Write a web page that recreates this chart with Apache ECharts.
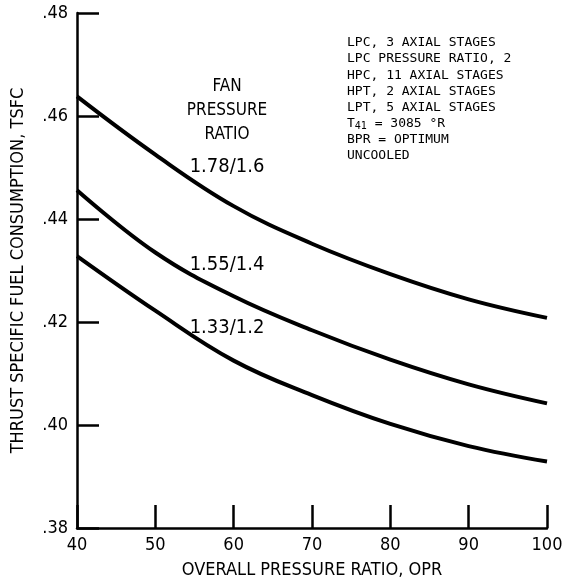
<!DOCTYPE html>
<html>
<head>
<meta charset="utf-8">
<script src="https://cdn.jsdelivr.net/npm/echarts@6/dist/echarts.min.js"></script>
<style>
html,body{margin:0;padding:0;background:#fff;}
#c{width:574px;height:582px;}
</style>
</head>
<body>
<div id="c"></div>
<script>
// Data
var opr = [40, 50, 60, 70, 80, 90, 100];
var tsfc_178 = [0.4638, 0.4525, 0.4425, 0.4352, 0.4293, 0.4244, 0.4208];
var tsfc_155 = [0.4456, 0.4335, 0.4250, 0.4184, 0.4127, 0.4079, 0.4042];
var tsfc_133 = [0.4328, 0.4222, 0.4125, 0.4058, 0.4002, 0.3959, 0.3929];
var seriesNames = ['1.78/1.6', '1.55/1.4', '1.33/1.2'];
var notes = ['LPC, 3 AXIAL STAGES', 'LPC PRESSURE RATIO, 2', 'HPC, 11 AXIAL STAGES',
  'HPT, 2 AXIAL STAGES', 'LPT, 5 AXIAL STAGES', 'T{sub|41} = 3085 \u00b0R', 'BPR = OPTIMUM', 'UNCOOLED'];
var fanTitle = ['FAN', 'PRESSURE', 'RATIO'];

var FONT = "'DejaVu Sans Condensed', 'DejaVu Sans', sans-serif";
var MONO = "'DejaVu Sans Mono', monospace";

function pairs(xs, ys) { return xs.map(function (x, i) { return [x, ys[i]]; }); }

var chart = echarts.init(document.getElementById('c'), null, {renderer: 'canvas'});

function mkSeries(name, ys) {
  return {
    name: name, type: 'line', data: pairs(opr, ys), smooth: 0.4,
    symbol: 'none', lineStyle: {color: '#000', width: 4}, silent: true
  };
}

var graphics = [];
var fanY = [87, 111, 135];
fanTitle.forEach(function (t, i) {
  graphics.push({type: 'text', x: 227, y: fanY[i], style: {text: t, font: '17px ' + FONT, fill: '#000', align: 'center', verticalAlign: 'middle'}});
});
var labY = [167, 265, 328];
seriesNames.forEach(function (t, i) {
  graphics.push({type: 'text', x: 227, y: labY[i], style: {text: t, font: '20px ' + FONT, fill: '#000', align: 'center', verticalAlign: 'middle'}});
});
notes.forEach(function (t, i) {
  graphics.push({type: 'text', x: 347, y: 43 + i * 16.1, style: {
    text: t, fill: '#000', verticalAlign: 'middle', font: '13px ' + MONO,
    rich: {sub: {fontSize: 10, fontFamily: MONO, verticalAlign: 'bottom', padding: [6, 0, 0, 0]}}
  }});
});

chart.setOption({
  animation: false,
  backgroundColor: '#fff',
  grid: {left: 77, right: 27, top: 13, bottom: 54, containLabel: false, outerBoundsMode: 'none'},
  xAxis: {
    type: 'value', min: 40, max: 100, interval: 10,
    name: 'OVERALL PRESSURE RATIO, OPR', nameLocation: 'middle', nameGap: 33,
    nameTextStyle: {color: '#000', fontSize: 18, fontFamily: FONT},
    axisLine: {show: true, lineStyle: {color: '#000', width: 2.5}},
    axisTick: {show: true, inside: true, length: 23, lineStyle: {color: '#000', width: 2.5}},
    axisLabel: {color: '#000', fontSize: 18, fontFamily: FONT, margin: 8},
    splitLine: {show: false}
  },
  yAxis: {
    type: 'value', min: 0.38, max: 0.48, interval: 0.02,
    name: 'THRUST SPECIFIC FUEL CONSUMPTION, TSFC', nameLocation: 'middle', nameGap: 50, nameRotate: 90,
    nameTextStyle: {color: '#000', fontSize: 18, fontFamily: FONT},
    axisLine: {show: true, onZero: false, lineStyle: {color: '#000', width: 2.5}},
    axisTick: {show: true, inside: true, length: 22, lineStyle: {color: '#000', width: 2.5}},
    axisLabel: {color: '#000', fontSize: 18, fontFamily: FONT, margin: 9,
      formatter: function (v) { return v.toFixed(2).replace(/^0/, ''); }},
    splitLine: {show: false}
  },
  series: [mkSeries(seriesNames[0], tsfc_178), mkSeries(seriesNames[1], tsfc_155), mkSeries(seriesNames[2], tsfc_133)],
  graphic: graphics
});
</script>
</body>
</html>
